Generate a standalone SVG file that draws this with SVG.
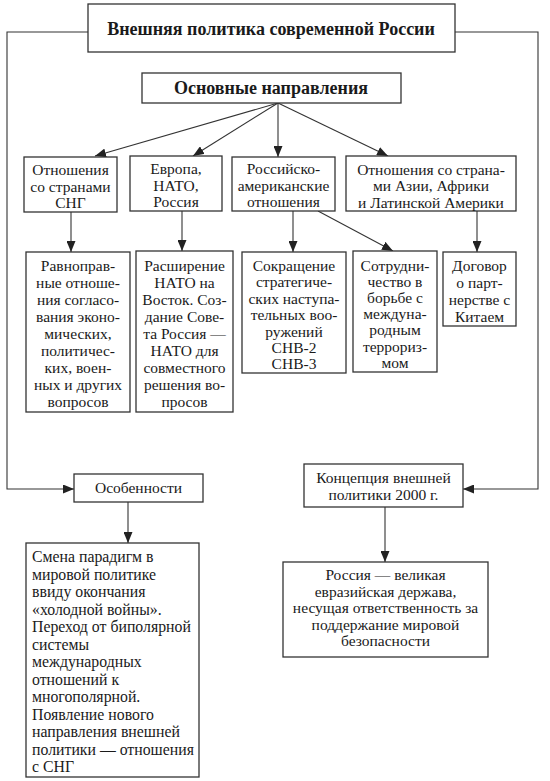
<svg xmlns="http://www.w3.org/2000/svg" width="550" height="781" viewBox="0 0 550 781">
<defs>
<marker id="ah" markerUnits="userSpaceOnUse" markerWidth="11" markerHeight="9" refX="11" refY="4.5" orient="auto">
<path d="M0,0 L11,4.5 L0,9 z" fill="#222"/>
</marker>
<style>
.box{fill:#fff;stroke:#333;stroke-width:1.3}
.t{font-family:"Liberation Serif","Times New Roman",serif;font-size:15.5px;fill:#1a1a1a;text-anchor:middle}
.l{text-anchor:start;font-size:15.8px}
.b{font-weight:bold;font-size:18px}
.c{fill:none;stroke:#333;stroke-width:1.1}
.a{marker-end:url(#ah)}
</style>
</defs>
<rect width="550" height="781" fill="#fff"/>
<g id="connectors">
<polyline class="c" points="88,32 7,32 7,489 74,489" marker-end="url(#ah)"/>
<polyline class="c" points="455,32 538,32 538,489 463,489" marker-end="url(#ah)"/>
<line class="c a" x1="278" y1="103" x2="95" y2="156"/>
<line class="c a" x1="278" y1="103" x2="193" y2="156"/>
<line class="c a" x1="278" y1="103" x2="278" y2="157"/>
<line class="c a" x1="278" y1="103" x2="388" y2="156"/>
<line class="c a" x1="71" y1="212" x2="71" y2="252"/>
<line class="c a" x1="182" y1="211" x2="182" y2="251"/>
<line class="c a" x1="293" y1="211" x2="293" y2="252"/>
<line class="c a" x1="318" y1="211" x2="393" y2="251"/>
<line class="c a" x1="477" y1="211" x2="477" y2="252"/>
<line class="c a" x1="128" y1="502" x2="128" y2="543"/>
<line class="c a" x1="385" y1="507" x2="385" y2="562"/>
</g>
<g id="title">
<rect class="box" x="88" y="4" width="367" height="48"/>
<text class="t b" x="271" y="35">Внешняя политика современной России</text>
</g>
<g id="main">
<rect class="box" x="142" y="73" width="259" height="30"/>
<text class="t b" x="271" y="94">Основные направления</text>
</g>
<g id="cis">
<rect class="box" x="24" y="157" width="93" height="55"/>
<text class="t" x="70.5" y="175">Отношения</text>
<text class="t" x="70.5" y="192">со странами</text>
<text class="t" x="70.5" y="208">СНГ</text>
</g>
<g id="europe">
<rect class="box" x="130" y="156" width="92" height="55"/>
<text class="t" x="176" y="174">Европа,</text>
<text class="t" x="176" y="191">НАТО,</text>
<text class="t" x="176" y="207">Россия</text>
</g>
<g id="usa">
<rect class="box" x="232" y="157" width="103" height="54"/>
<text class="t" x="283.5" y="174">Российско-</text>
<text class="t" x="283.5" y="191">американские</text>
<text class="t" x="283.5" y="207">отношения</text>
</g>
<g id="asia">
<rect class="box" x="346" y="156" width="170" height="55"/>
<text class="t" x="431" y="175">Отношения со страна-</text>
<text class="t" x="431" y="191">ми Азии, Африки</text>
<text class="t" x="431" y="208">и Латинской Америки</text>
</g>
<g id="cis-detail">
<rect class="box" x="26" y="252" width="104" height="160"/>
<text class="t" x="78" y="271">Равноправ-</text>
<text class="t" x="78" y="288">ные отноше-</text>
<text class="t" x="78" y="305">ния согласо-</text>
<text class="t" x="78" y="322">вания эконо-</text>
<text class="t" x="78" y="339">мических,</text>
<text class="t" x="78" y="356">политичес-</text>
<text class="t" x="78" y="373">ких, воен-</text>
<text class="t" x="78" y="390">ных и других</text>
<text class="t" x="78" y="407">вопросов</text>
</g>
<g id="nato-detail">
<rect class="box" x="136" y="251" width="97" height="161"/>
<text class="t" x="184.5" y="271">Расширение</text>
<text class="t" x="184.5" y="288">НАТО на</text>
<text class="t" x="184.5" y="305">Восток. Соз-</text>
<text class="t" x="184.5" y="322">дание Сове-</text>
<text class="t" x="184.5" y="339">та Россия —</text>
<text class="t" x="184.5" y="356">НАТО для</text>
<text class="t" x="184.5" y="373">совместного</text>
<text class="t" x="184.5" y="390">решения во-</text>
<text class="t" x="184.5" y="407">просов</text>
</g>
<g id="start-detail">
<rect class="box" x="242" y="252" width="104" height="121"/>
<text class="t" x="294" y="271">Сокращение</text>
<text class="t" x="294" y="287">стратегиче-</text>
<text class="t" x="294" y="304">ских наступа-</text>
<text class="t" x="294" y="320">тельных воо-</text>
<text class="t" x="294" y="337">ружений</text>
<text class="t" x="294" y="353">СНВ-2</text>
<text class="t" x="294" y="369">СНВ-3</text>
</g>
<g id="terror-detail">
<rect class="box" x="353" y="251" width="84" height="121"/>
<text class="t" x="395" y="271">Сотрудни-</text>
<text class="t" x="395" y="287">чество в</text>
<text class="t" x="395" y="303">борьбе с</text>
<text class="t" x="395" y="319">междуна-</text>
<text class="t" x="395" y="335">родным</text>
<text class="t" x="395" y="352">террориз-</text>
<text class="t" x="395" y="368">мом</text>
</g>
<g id="china-detail">
<rect class="box" x="443" y="252" width="73" height="74"/>
<text class="t" x="479.5" y="271">Договор</text>
<text class="t" x="479.5" y="288">о парт-</text>
<text class="t" x="479.5" y="305">нерстве с</text>
<text class="t" x="479.5" y="322">Китаем</text>
</g>
<g id="features">
<rect class="box" x="74" y="474" width="129" height="28"/>
<text class="t" x="138.5" y="493">Особенности</text>
</g>
<g id="features-detail">
<rect class="box" x="26" y="543" width="173" height="234"/>
<text class="t l" x="32" y="562">Смена парадигм в</text>
<text class="t l" x="32" y="579.5">мировой политике</text>
<text class="t l" x="32" y="597">ввиду окончания</text>
<text class="t l" x="32" y="614.5">«холодной войны».</text>
<text class="t l" x="32" y="632">Переход от биполярной</text>
<text class="t l" x="32" y="649.5">системы</text>
<text class="t l" x="32" y="667">международных</text>
<text class="t l" x="32" y="684.5">отношений к</text>
<text class="t l" x="32" y="702">многополярной.</text>
<text class="t l" x="32" y="719.5">Появление нового</text>
<text class="t l" x="32" y="737">направления внешней</text>
<text class="t l" x="32" y="754.5">политики — отношения</text>
<text class="t l" x="32" y="772">с СНГ</text>
</g>
<g id="concept">
<rect class="box" x="304" y="464" width="159" height="43"/>
<text class="t" x="383.5" y="483">Концепция внешней</text>
<text class="t" x="383.5" y="500">политики 2000 г.</text>
</g>
<g id="concept-detail">
<rect class="box" x="283" y="562" width="205" height="95"/>
<text class="t" x="385.5" y="580">Россия — великая</text>
<text class="t" x="385.5" y="597">евразийская держава,</text>
<text class="t" x="385.5" y="613">несущая ответственность за</text>
<text class="t" x="385.5" y="630">поддержание мировой</text>
<text class="t" x="385.5" y="646">безопасности</text>
</g>
</svg>
